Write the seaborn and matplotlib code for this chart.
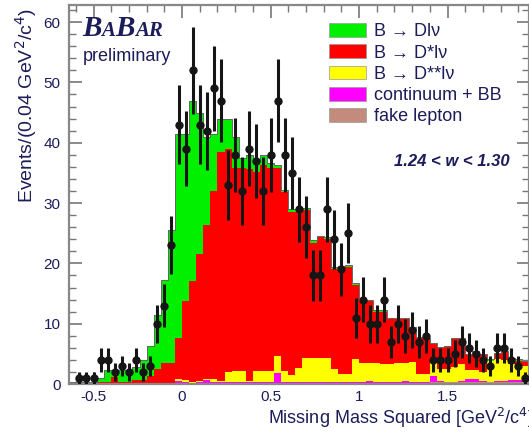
import numpy as np
import pandas as pd
import matplotlib
matplotlib.use('Agg')
import matplotlib.pyplot as plt
import seaborn as sns
from matplotlib.patches import Patch
from matplotlib.ticker import MultipleLocator
from matplotlib.offsetbox import TextArea, HPacker, AnchoredOffsetbox

# bins of 0.04 GeV^2/c^4 from -0.64 to 1.96
edges = np.round(np.arange(-0.64, 1.9601, 0.04), 2)
centers = (edges[:-1] + edges[1:]) / 2

# data points (events per bin)
data = [0, 1, 1, 1, 4, 4, 2, 3, 2, 4,
        2, 3, 10, 13, 23, 43, 39, 52, 43, 42,
        49, 47, 33, 38, 32, 39, 37, 32, 38, 47,
        38, 35, 29, 26, 18, 18, 29, 24, 19, 25,
        11, 14, 10, 10, 14, 7, 10, 8, 9, 7,
        8, 4, 4, 4, 5, 7, 6, 5, 4, 3,
        6, 6, 4, 3, 1]

# top of each stacked layer (cumulative)
top_dlnu = [0.3, 0.3, 0.3, 0.4, 1.0, 2.4, 2.4, 2.4, 2.3, 2.8,
            4.0, 6.3, 11.5, 17.3, 25.6, 41.5, 41.5, 47, 45, 41,
            41.5, 44, 44, 41, 37.5, 38, 37, 38, 36.6, 36.3,
            32.2, 29, 29, 29.1, 23.8, 24.6, 24.4, 19.4, 19.6, 19.8,
            16.8, 14.1, 14, 12.3, 12.3, 11, 11, 11, 9.4, 7.8,
            7.6, 6.8, 6.2, 6.3, 7.6, 7.6, 5.0, 5.5, 5.0, 4.1,
            5.2, 5.5, 4.4, 4.1, 3.8]
top_dstar = [0.2, 0.2, 0.2, 0.2, 0.3, 0.3, 1.2, 0.4, 0.4, 0.7,
             0.7, 1.3, 2.5, 3.5, 3.5, 7.7, 13.7, 17, 21.5, 26.4,
             32, 38.5, 39, 35.8, 35.8, 35.6, 35.2, 36.3, 35.8, 35.8,
             31.9, 28.6, 28.6, 28.8, 23.4, 24.3, 24, 19, 19.2, 19.4,
             16.5, 13.8, 13.7, 12, 12, 10.8, 10.8, 10.8, 9.2, 7.6,
             7.4, 6.6, 6.0, 6.1, 7.4, 7.4, 4.8, 5.3, 4.8, 3.9,
             5.0, 5.3, 4.2, 3.9, 3.6]
top_dstarstar = [0.1, 0.1, 0.1, 0.1, 0.2, 0.2, 0.2, 0.2, 0.2, 0.2,
                 0.2, 0.2, 0.2, 0.2, 0.2, 0.8, 0.6, 0.3, 0.5, 0.8,
                 0.9, 0.5, 2.0, 2.1, 2.1, 0.5, 2.1, 2.1, 2.2, 4.7,
                 2.2, 1.5, 2.7, 4.3, 4.3, 4.3, 4.3, 2.5, 1.7, 1.7,
                 4.2, 3.5, 3.5, 3.5, 3.3, 3.4, 3.5, 3.5, 3.6, 1.7,
                 1.7, 4.3, 2.5, 2.5, 2.8, 3.3, 2.4, 2.3, 2.0, 3.8,
                 4.1, 4.0, 3.3, 3.1, 3.0]
top_continuum = [0.1, 0.1, 0.1, 0.1, 0.1, 0.1, 0.1, 0.1, 0.1, 0.1,
                 0.1, 0.1, 0.1, 0.2, 0.2, 0.5, 0.3, 0.2, 0.3, 0.6,
                 0.3, 0.3, 0.4, 0.3, 0.3, 0.3, 0.4, 0.3, 0.3, 1.9,
                 0.3, 0.3, 0.4, 0.4, 0.4, 0.3, 0.4, 0.3, 0.3, 0.4,
                 0.4, 0.4, 0.5, 0.4, 0.4, 0.4, 0.4, 0.5, 0.4, 0.4,
                 0.4, 1.4, 0.5, 0.4, 0.4, 0.5, 0.9, 0.9, 0.5, 0.4,
                 0.5, 0.5, 0.6, 0.6, 0.7]
top_fake = [0.05, 0.05, 0.05, 0.05, 0.1, 0.1, 0.1, 0.1, 0.1, 0.1,
            0.1, 0.1, 0.1, 0.1, 0.1, 0.1, 0.1, 0.1, 0.1, 0.1,
            0.1, 0.1, 0.1, 0.1, 0.1, 0.1, 0.1, 0.1, 0.1, 0.1,
            0.15, 0.15, 0.15, 0.15, 0.15, 0.15, 0.15, 0.15, 0.15, 0.15,
            0.2, 0.2, 0.2, 0.2, 0.2, 0.2, 0.2, 0.2, 0.2, 0.2,
            0.2, 0.3, 0.3, 0.3, 0.3, 0.3, 0.3, 0.3, 0.3, 0.3,
            0.3, 0.3, 0.3, 0.3, 0.3]

labels = ['B \u2192 Dl\u03bd', 'B \u2192 D*l\u03bd', 'B \u2192 D**l\u03bd',
          'continuum + BB', 'fake lepton']
colors = ['#00f000', '#ff0000', '#ffff00', '#ff00ff', '#c48a7c']
layers = [top_dlnu, top_dstar, top_dstarstar, top_continuum, top_fake]

sns.set_style('ticks')
plt.rcParams['font.family'] = ['Liberation Sans', 'DejaVu Sans']
navy = '#1c1c5a'

fig = plt.figure(figsize=(5.29, 4.32), dpi=100)
ax = fig.add_axes([0.130, 0.111, 0.870, 0.877])

bin_list = [float(e) for e in edges]

# stacked histogram, drawn back to front
for tops, col in zip(layers, colors):
    df = pd.DataFrame({'mm2': centers, 'n': tops})
    sns.histplot(data=df, x='mm2', weights='n', bins=bin_list, element='step',
                 fill=True, color=col, alpha=1, linewidth=0, ax=ax)
df_tot = pd.DataFrame({'mm2': centers, 'n': top_dlnu})
sns.histplot(data=df_tot, x='mm2', weights='n', bins=bin_list, element='step',
             fill=False, color='#666666', linewidth=0.7, ax=ax)

# data with sqrt(N) errors
d = np.array(data, dtype=float)
m = d > 0
ax.errorbar(centers[m], d[m], yerr=np.sqrt(d[m]), fmt='o', color='#151515',
            ms=5, elinewidth=2.2, capsize=0, zorder=5)

ax.set_xlim(-0.64, 1.96)
ax.set_ylim(0, 62.8)
ax.xaxis.set_major_locator(MultipleLocator(0.5))
ax.xaxis.set_minor_locator(MultipleLocator(0.1))
ax.yaxis.set_major_locator(MultipleLocator(10))
ax.yaxis.set_minor_locator(MultipleLocator(2))
ax.set_xticks([-0.5, 0, 0.5, 1, 1.5])
ax.set_xticklabels(['-0.5', '0', '0.5', '1', '1.5'])
ax.tick_params(which='both', direction='in', top=True, right=True,
               colors='#777777', labelcolor=navy, labelsize=11)
ax.tick_params(which='major', length=9, width=1.2)
ax.tick_params(which='minor', length=5, width=1.0)
ax.tick_params(axis='y', pad=6)
ax.tick_params(axis='x', pad=4)
for s in ax.spines.values():
    s.set_color('#888888')
    s.set_linewidth(1.6)

ax.set_ylabel('Events/(0.04 GeV$^2$/c$^4$)', fontsize=14, color=navy, loc='top')
ax.yaxis.set_label_coords(-0.064, 0.993)
ax.set_xlabel('Missing Mass Squared [GeV$^2$/c$^4$]', fontsize=13, color=navy,
              ha='left')
ax.xaxis.set_label_coords(0.433, -0.058)

handles = [Patch(facecolor=c, edgecolor='#999999', linewidth=0.5) for c in colors]
ax.legend(handles, labels, loc='upper left', bbox_to_anchor=(0.605, 0.967),
          bbox_transform=fig.transFigure, frameon=False, fontsize=13,
          handlelength=2.05, handleheight=0.8, handletextpad=0.45,
          labelspacing=0.22, borderpad=0, labelcolor=navy)

ax.text(0.855, 0.625, '1.24 < w < 1.30', transform=fig.transFigure, ha='center',
        va='center', fontsize=12, style='italic', weight='bold', color=navy)

# BaBar logo
big = dict(family='Liberation Serif', style='italic', weight='bold', size=21, color=navy)
small = dict(family='Liberation Serif', style='italic', weight='bold', size=15, color=navy)
logo = HPacker(children=[TextArea('B', textprops=big), TextArea('A', textprops=small),
                         TextArea('B', textprops=big), TextArea('AR', textprops=small)],
               align='baseline', pad=0, sep=0)
ax.add_artist(AnchoredOffsetbox(loc='upper left', child=logo, pad=0, borderpad=0,
                                frameon=False, bbox_to_anchor=(0.155, 0.965),
                                bbox_transform=fig.transFigure))
ax.text(0.157, 0.87, 'preliminary', transform=fig.transFigure, fontsize=13,
        color=navy, va='center')

fig.savefig('out.png', dpi=100)
